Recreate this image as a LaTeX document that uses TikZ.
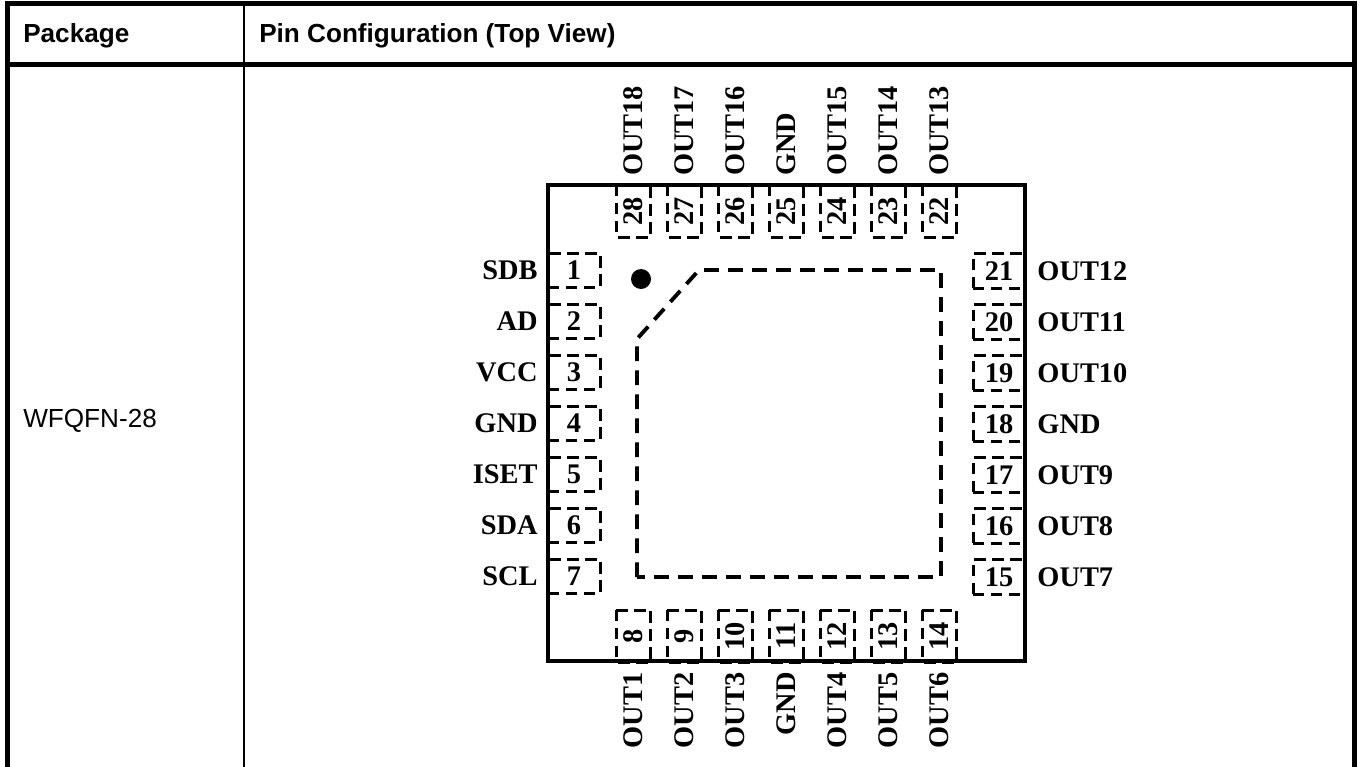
\documentclass[tikz,border=0pt]{standalone}
\usepackage{fontspec}
\setmainfont{Liberation Serif}
\setsansfont{Liberation Sans}
\tikzset{
    padbox/.style={draw,line width=2.25pt,dash pattern=on 8.6pt off 4.9pt,minimum width=39pt,minimum height=26pt,inner sep=0pt,font=\bfseries\fontsize{21.3}{21}\selectfont},
    pinlabel/.style={inner sep=0pt,font=\bfseries\fontsize{21.3}{21}\selectfont},
    headtext/.style={inner sep=0pt,anchor=base west,font=\sffamily\fontsize{19.6}{20}\selectfont},
}
\begin{document}
\begin{tikzpicture}[x=0.75pt,y=-0.75pt]
    \useasboundingbox (0,0) rectangle (1361,767);
    % table
    \begin{scope}[line cap=rect]
        \draw[line width=3.6pt] (7.3,767)--(7.3,3.3)--(1354.5,3.3)--(1354.5,767);
        \draw[line width=3.6pt] (7.3,64.7)--(1354.5,64.7);
        \draw[line width=1.5pt] (244.3,3.3)--(244.3,767);
    \end{scope}
    \node[headtext] (package) at (23,43) {\bfseries Package};
    \node[headtext] (config) at (259,42.5) {\bfseries Pin Configuration (Top View)};
    \node[headtext] (wfqfn) at (23,427) {WFQFN-28};
    % chip body
    \draw[line width=2.4pt] (548,185) rectangle (1025,661);
    \draw[line width=2.9pt,dash pattern=on 11pt off 7pt] (637,577)--(637,339)--(699,270)--(941,270)--(941,577)--cycle;
    \node[circle,fill=black,minimum size=15pt,inner sep=0pt] (dot) at (641,279) {};
    % left and right pins
    \foreach \n/\pin [count=\k from 0] in {1/SDB,2/AD,3/VCC,4/GND,5/ISET,6/SDA,7/SCL}{
        \node[padbox] (pad\n) at (574,{270.5+51*\k}) {\n};
        \node[pinlabel,anchor=east] (pin\n) at ([xshift=-6.5pt]pad\n.west) {\pin};
    }
    \foreach \n/\pin [count=\k from 0] in {21/OUT12,20/OUT11,19/OUT10,18/GND,17/OUT9,16/OUT8,15/OUT7}{
        \node[padbox] (pad\n) at (999,{271+51*\k}) {\n};
        \node[pinlabel,anchor=west] (pin\n) at ([xshift=8pt]pad\n.east) {\pin};
    }
    % top and bottom pins
    \foreach \n/\pin [count=\k from 0] in {28/OUT18,27/OUT17,26/OUT16,25/GND,24/OUT15,23/OUT14,22/OUT13}{
        \node[padbox,rotate=90] (pad\n) at ({633.5+51*\k},211) {\n};
        \node[pinlabel,rotate=90,anchor=west] (pin\n) at ([yshift=5.5pt]pad\n.east) {\pin};
    }
    \foreach \n/\pin [count=\k from 0] in {8/OUT1,9/OUT2,10/OUT3,11/GND,12/OUT4,13/OUT5,14/OUT6}{
        \node[padbox,rotate=90] (pad\n) at ({633.5+51*\k},636) {\n};
        \node[pinlabel,rotate=90,anchor=east] (pin\n) at ([yshift=-6.5pt]pad\n.west) {\pin};
    }
\end{tikzpicture}
\end{document}
